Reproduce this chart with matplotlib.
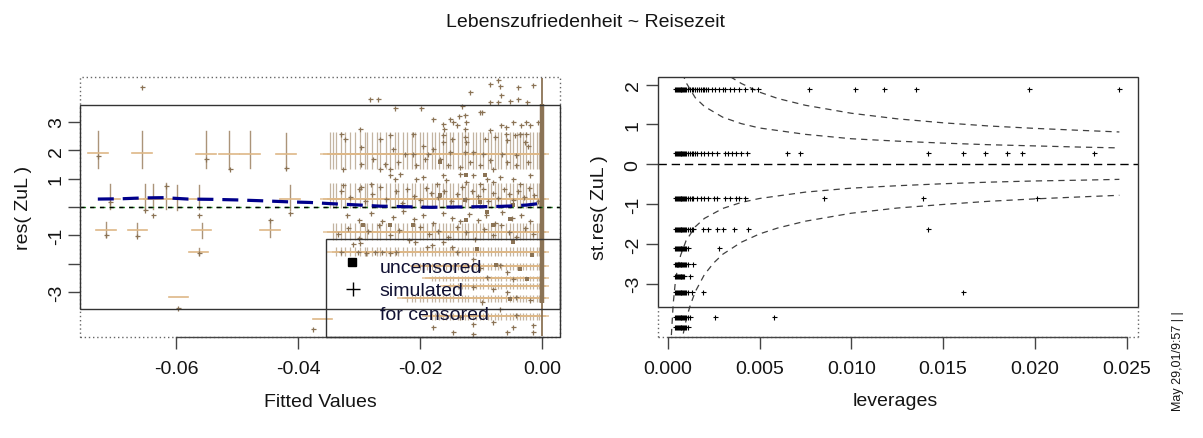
import matplotlib
matplotlib.use("Agg")
import matplotlib.pyplot as plt
from matplotlib.patches import Rectangle

plt.rcParams['font.family'] = ['Liberation Sans', 'DejaVu Sans']
plt.rcParams['axes.unicode_minus'] = False

# ---------------- data: left panel (res vs fitted) ----------------
# big censored "+" crosses (simulated residuals) in the sparse left region
cens_x  = [-0.0728, -0.0656, -0.0551, -0.0513, -0.0479, -0.0420,
           -0.0708, -0.0650, -0.0637, -0.0617, -0.0598, -0.0563, -0.0413,
           -0.0715, -0.0663, -0.0558, -0.0446,
           -0.0563, -0.0596, -0.0360]
cens_y  = [1.92, 1.92, 1.86, 1.86, 1.86, 1.86,
           0.28, 0.28, 0.28, 0.28, 0.28, 0.28, 0.28,
           -0.81, -0.81, -0.81, -0.81,
           -1.59, -3.17, -3.94]
cens_lo = [1.39, 1.39, 1.39, 1.35, 1.39, 1.35,
           -0.08, -0.12, -0.08, -0.08, -0.10, -0.08, -0.12,
           -1.05, -1.05, -1.10, -1.05,
           -1.68, -3.17, -3.94]
cens_hi = [2.68, 2.68, 2.68, 2.68, 2.68, 2.63,
           0.81, 0.81, 0.81, 0.85, 0.78, 0.78, 0.78,
           -0.53, -0.57, -0.57, -0.45,
           -1.45, -3.17, -3.94]

# fitted values of the dense region (columns)
dense_x = [-0.0348, -0.0343, -0.0337, -0.0329, -0.0323, -0.0315, -0.0307, -0.0299,
           -0.0290, -0.0287, -0.0278, -0.0271, -0.0266, -0.0255, -0.0250, -0.0241,
           -0.0236, -0.0228, -0.0222, -0.0214, -0.0209, -0.0200, -0.0195, -0.0189,
           -0.0181, -0.0176, -0.0169, -0.0162, -0.0157, -0.0151, -0.0146, -0.0138,
           -0.0132, -0.0127, -0.0121, -0.0114, -0.0108, -0.0102, -0.0097, -0.0089,
           -0.0083, -0.0078, -0.0072, -0.0067, -0.0060, -0.0053, -0.0048, -0.0041,
           -0.0037, -0.0031, -0.0026, -0.0020, -0.0015, -0.0009, -0.0005]
# response levels of the censored crosses in the dense region
lvl_y    = [1.86, 0.28, -0.87, -1.58, -2.10, -2.52, -2.80, -3.22, -3.86]
lvl_lo   = [1.33, -0.05, -1.15, -1.72, -2.22, -2.62, -2.90, -3.35, -3.98]
lvl_hi   = [2.65, 0.85, -0.58, -1.42, -1.98, -2.42, -2.70, -3.10, -3.74]
lvl_from = [-0.0348, -0.0348, -0.0343, -0.0337, -0.0200, -0.0181, -0.0151, -0.0222, -0.0181]

# uncensored residuals (small points)
ux = [-0.0282, -0.0269, -0.0241, -0.0198, -0.0132, -0.0118, -0.0086, -0.0072, -0.0069, -0.0053,
      -0.0039, -0.0040, -0.0025, -0.0085, -0.0099, -0.0179, -0.0151, -0.0146, -0.0127, -0.0102,
      -0.0086, -0.0067, -0.0048, -0.0026, -0.0026, -0.0037, -0.0060, -0.0162, -0.0140, -0.0127,
      -0.0067, -0.0015, -0.0072, -0.0137, -0.0125, -0.0160, -0.0059, -0.0034, -0.0020, -0.0006,
      -0.0656,
      -0.0162, -0.0148, -0.0127, -0.0124, -0.0094, -0.0077, -0.0058, -0.0044, -0.0036, -0.0028,
      -0.0023, -0.0151, -0.0127, -0.0113, -0.0097, -0.0066, -0.0042, -0.0086, -0.0058, -0.0154,
      -0.0135, -0.0118, -0.0102, -0.0080, -0.0042, -0.0023, -0.0329, -0.0323, -0.0299, -0.0296,
      -0.0266, -0.0249, -0.0244, -0.0211, -0.0195, -0.0187, -0.0179, -0.0211, -0.0296, -0.0277,
      -0.0258, -0.0236, -0.0225, -0.0206, -0.0192, -0.0168, -0.0162, -0.0326, -0.0266, -0.0249,
      -0.0728, -0.0551, -0.0512, -0.0420,
      -0.0249, -0.0241, -0.0233, -0.0206, -0.0195, -0.0173, -0.0162, -0.0157, -0.0135, -0.0124,
      -0.0113, -0.0102, -0.0091, -0.0080, -0.0069, -0.0047, -0.0036, -0.0020, -0.0326, -0.0296,
      -0.0280,
      -0.0330, -0.0315, -0.0300, -0.0290, -0.0278, -0.0265, -0.0255, -0.0240, -0.0230, -0.0222,
      -0.0210, -0.0200, -0.0190, -0.0182, -0.0170, -0.0160, -0.0150, -0.0140, -0.0132, -0.0125,
      -0.0115, -0.0105, -0.0097, -0.0088, -0.0080, -0.0072, -0.0063, -0.0055, -0.0047, -0.0040,
      -0.0030, -0.0022, -0.0014, -0.0006,
      -0.0708, -0.0650, -0.0637, -0.0617, -0.0563, -0.0446, -0.0413,
      -0.0320, -0.0300, -0.0280, -0.0262, -0.0245, -0.0228, -0.0210, -0.0195, -0.0178, -0.0162,
      -0.0148, -0.0135, -0.0120, -0.0105, -0.0092, -0.0078, -0.0065, -0.0050, -0.0035, -0.0020,
      -0.0335, -0.0318, -0.0300, -0.0285, -0.0268, -0.0250, -0.0235, -0.0218, -0.0200, -0.0185,
      -0.0170, -0.0155, -0.0140, -0.0125, -0.0110, -0.0095, -0.0080, -0.0068, -0.0055, -0.0042,
      -0.0028, -0.0015,
      -0.0563, -0.0663, -0.0715, -0.0597, -0.0375,
      -0.0329, -0.0301, -0.0288, -0.0274, -0.0263, -0.0249, -0.0239, -0.0310, -0.0299, -0.0209,
      -0.0189, -0.0181, -0.0162, -0.0148, -0.0140, -0.0113, -0.0102, -0.0069, -0.0058, -0.0091,
      -0.0047, -0.0113, -0.0080, -0.0058, -0.0042, -0.0020, -0.0099, -0.0069, -0.0042, -0.0135,
      -0.0113, -0.0080, -0.0047, -0.0015, -0.0179, -0.0146, -0.0113, -0.0058, -0.0015]
uy = [3.80, 3.80, 3.49, 3.49, 3.57, 4.07, 4.35, 4.47, 4.27, 3.76,
      4.22, 3.82, 3.70, 3.70, 3.35, 3.12, 3.12, 3.00, 3.24, 3.35,
      2.71, 2.88, 3.00, 3.00, 2.59, 2.59, 2.59, 2.94, 2.88, 2.76,
      3.94, 4.29, 3.70, 3.23, 3.00, 2.76, 2.82, 2.90, 2.90, 3.00,
      4.24,
      2.53, 2.41, 2.47, 2.29, 2.41, 2.47, 2.35, 2.53, 2.59, 2.29,
      2.17, 1.94, 1.94, 1.94, 1.88, 1.88, 1.84, 1.65, 1.59, 1.47,
      1.41, 1.59, 1.47, 1.35, 1.47, 1.59, 2.59, 2.41, 2.76, 2.12,
      2.41, 2.53, 2.06, 2.59, 2.17, 1.88, 2.06, 1.88, 1.53, 1.71,
      1.53, 1.59, 1.88, 1.47, 1.71, 1.71, 2.29, 1.35, 1.35, 1.35,
      1.80, 1.68, 1.35, 1.38,
      1.12, 1.00, 1.18, 1.00, 1.06, 0.82, 1.12, 0.94, 1.18, 0.88,
      1.12, 0.82, 1.00, 0.88, 1.06, 1.00, 0.82, 1.12, 0.76, 0.70,
      0.82,
      0.55, 0.35, 0.62, 0.20, 0.45, 0.70, 0.30, 0.55, 0.15, 0.62,
      0.40, 0.25, 0.68, 0.50, 0.35, 0.58, 0.20, 0.45, 0.70, 0.30,
      0.55, 0.38, 0.65, 0.22, 0.50, 0.32, 0.62, 0.45, 0.25, 0.58,
      0.35, 0.68, 0.42, 0.20,
      0.18, -0.12, -0.30, 0.74, -0.30, -0.45, -0.20,
      -0.30, -0.45, -0.20, -0.50, -0.35, -0.15, -0.42, -0.28, -0.55, -0.20,
      -0.38, -0.50, -0.25, -0.45, -0.30, -0.55, -0.18, -0.40, -0.28, -0.50,
      -0.95, -0.75, -1.10, -0.85, -0.65, -1.00, -0.80, -1.15, -0.70, -0.95,
      -0.85, -1.05, -0.70, -0.90, -1.12, -0.78, -0.98, -0.65, -0.88, -1.05,
      -0.75, -0.95,
      -1.62, -1.04, -0.98, -3.57, -4.30,
      -1.59, -1.59, -1.61, -1.59, -1.59, -1.61, -1.59, -1.30, -1.26, -1.24,
      -1.41, -1.33, -1.24, -1.41, -1.59, -1.82, -2.17, -2.06, -2.29, -2.47,
      -2.53, -2.82, -2.88, -3.00, -3.18, -3.30, -3.35, -3.59, -3.83, -3.88,
      -4.12, -4.06, -4.24, -4.18, -4.24, -4.41, -4.47, -4.41, -4.41]

# dark clumps of overlapping uncensored points
clump_x = [-0.0168, -0.0124, -0.0094, -0.0127, -0.0102, -0.0168, -0.0047, -0.0053, -0.0091,
           -0.0124, -0.0080, -0.0047, -0.0107, -0.0075, -0.0036, -0.0017, -0.0025, -0.0053,
           -0.0249, -0.0211, -0.0293]
clump_y = [1.59, 1.12, 1.12, 0.23, 0.18, 0.41, 0.06, -0.41, -0.18,
           -0.47, -0.65, -1.24, -1.47, -2.06, -2.18, -1.71, -2.53, -3.24,
           -0.65, -0.65, -0.65]

# observations with fitted value 0 (vertical strip)
zero_fit = 0.0
strip_core = [-3.40, 3.65]
strip_full = [-4.55, 4.55]

# lowess smooth (blue dashed)
smooth_x = [-0.0728, -0.0690, -0.0655, -0.0620, -0.0580, -0.0540, -0.0500, -0.0460,
            -0.0413, -0.0380, -0.0348, -0.0300, -0.0266, -0.0225, -0.0184, -0.0143,
            -0.0102, -0.0070, -0.0047, -0.0025, -0.0006]
smooth_y = [0.28, 0.29, 0.32, 0.33, 0.28, 0.27, 0.25, 0.22, 0.18, 0.16, 0.12, 0.07,
            0.03, 0.01, -0.01, 0.00, 0.01, 0.02, 0.04, 0.07, 0.12]

# ---------------- data: right panel (st.res vs leverages) ----------------
dense_lev = [0.0004, 0.00045, 0.0005, 0.00055, 0.0006, 0.00065, 0.0007, 0.00075,
             0.0008, 0.00085, 0.0009, 0.00095, 0.001]
res_levels = [1.88, 0.27, -0.85, -1.62, -2.10, -2.50, -2.80, -3.20, -3.84, -4.08]
lev_by_level = [
    dense_lev + [0.0011, 0.0012, 0.0013, 0.0014, 0.0015, 0.0016, 0.0017, 0.0018, 0.0019,
                 0.0020, 0.0021, 0.0022, 0.0024, 0.0026, 0.0028, 0.0030, 0.0031, 0.0034,
                 0.0036, 0.0039, 0.0042, 0.0046, 0.0049, 0.0077, 0.0102, 0.0118, 0.0135,
                 0.0197, 0.0246],
    dense_lev + [0.0011, 0.0012, 0.0013, 0.0014, 0.0015, 0.0016, 0.0018, 0.0020, 0.0022,
                 0.0024, 0.0027, 0.0031, 0.0033, 0.0035, 0.0037, 0.0040, 0.0043, 0.0065,
                 0.0072, 0.0142, 0.0161, 0.0173, 0.0185, 0.0193, 0.0232],
    dense_lev + [0.0011, 0.0012, 0.0013, 0.0014, 0.0016, 0.0018, 0.0020, 0.0022, 0.0025,
                 0.0027, 0.0031, 0.0034, 0.0037, 0.0039, 0.0042, 0.0085, 0.0139, 0.0201],
    dense_lev + [0.0011, 0.0012, 0.0013, 0.0014, 0.0019, 0.0022, 0.0027, 0.0030, 0.0036,
                 0.0044, 0.0142],
    dense_lev + [0.0011, 0.0028],
    dense_lev + [0.0011, 0.0014],
    dense_lev[:11] + [0.0012],
    dense_lev + [0.0011, 0.0013, 0.0019, 0.0161],
    dense_lev + [0.0011, 0.0012, 0.0026, 0.0058],
    dense_lev + [0.0011],
]

# Cook-type reference contours
c_out_up_h = [0.0034, 0.004, 0.005, 0.006, 0.0075, 0.01, 0.0125, 0.015, 0.0175, 0.02, 0.0225, 0.0246]
c_out_up_y = [2.20, 2.03, 1.81, 1.65, 1.48, 1.28, 1.14, 1.04, 0.96, 0.90, 0.85, 0.81]
c_in_up_h  = [0.0008, 0.001, 0.0015, 0.002, 0.003, 0.004, 0.005, 0.0075, 0.01, 0.0125, 0.015, 0.0175, 0.02, 0.0225, 0.0246]
c_in_up_y  = [2.29, 2.05, 1.67, 1.45, 1.18, 1.02, 0.91, 0.75, 0.64, 0.58, 0.53, 0.49, 0.46, 0.43, 0.41]
c_out_lo_h = [0.00085, 0.001, 0.0012, 0.0015, 0.002, 0.0025, 0.003, 0.004, 0.005, 0.006, 0.0075, 0.01, 0.0125, 0.015, 0.0175, 0.02, 0.0225, 0.0246]
c_out_lo_y = [-4.25, -3.92, -3.58, -3.20, -2.77, -2.48, -2.26, -1.96, -1.75, -1.60, -1.43, -1.23, -1.10, -1.01, -0.93, -0.87, -0.82, -0.78]
c_in_lo_h  = [0.0002, 0.0003, 0.0004, 0.0005, 0.0007, 0.001, 0.0015, 0.002, 0.003, 0.004, 0.005, 0.0075, 0.01, 0.0125, 0.015, 0.0175, 0.02, 0.0225, 0.0246]
c_in_lo_y  = [-4.29, -3.50, -3.03, -2.71, -2.29, -1.92, -1.57, -1.36, -1.11, -0.96, -0.86, -0.70, -0.60, -0.54, -0.49, -0.45, -0.42, -0.40, -0.38]

left_xticks = [-0.06, -0.04, -0.02, 0.00]
left_xticklabels = ['-0.06', '-0.04', '-0.02', '0.00']
left_yticks = [-3, -2, -1, 0, 1, 2, 3]
left_yticklabels = ['-3', '', '-1', '', '1', '2', '3']
right_xticks = [0.000, 0.005, 0.010, 0.015, 0.020, 0.025]
right_xticklabels = ['0.000', '0.005', '0.010', '0.015', '0.020', '0.025']
right_yticks = [-3, -2, -1, 0, 1, 2]
right_yticklabels = ['-3', '-2', '-1', '0', '1', '2']
legend_labels = ['uncensored', 'simulated', 'for censored']

# ---------------- figure ----------------
W, H = 1203, 439
fig = plt.figure(figsize=(W / 100, H / 100), dpi=100)
fig.patch.set_facecolor('white')

def px_axes(x0, y0, x1, y1):
    return fig.add_axes([x0 / W, 1 - y1 / H, (x1 - x0) / W, (y1 - y0) / H])

AX = '#444444'
TXT = '#141414'
BROWN = '#8B7355'
TAN = '#DEB887'
VERT = '#9C8262'
ARM = 0.0016

# ======== left ========
axL = px_axes(80, 78, 560, 338)
xl0, xl1 = -0.07572, 0.00293
yl0, yl1 = -4.59, 4.59
axL.set_xlim(xl0, xl1)
axL.set_ylim(yl0, yl1)
for s in axL.spines.values():
    s.set_visible(False)

# sparse censored crosses
for x, y, lo, hi in zip(cens_x, cens_y, cens_lo, cens_hi):
    if hi > lo:
        axL.plot([x, x], [lo, hi], color=VERT, lw=1.0, alpha=0.85, zorder=2)
    axL.plot([x - ARM, x + ARM], [y, y], color=TAN, lw=1.2, zorder=2)

# dense censored crosses
for ly, lo, hi, x0 in zip(lvl_y, lvl_lo, lvl_hi, lvl_from):
    xs = [x for x in dense_x if x >= x0]
    axL.vlines(xs, lo, hi, color=VERT, lw=0.9, alpha=0.6, zorder=2)
    axL.hlines([ly] * len(xs), [x - ARM for x in xs], [x + ARM for x in xs],
               color=TAN, lw=1.1, alpha=0.85, zorder=2)

# uncensored points
axL.plot(ux, uy, '+', color=BROWN, ms=3.6, mew=0.9, zorder=3)
axL.plot(clump_x, clump_y, 's', color=BROWN, ms=3.2, mew=0, zorder=3)

# fitted == 0 strip
axL.vlines([zero_fit], strip_full[0], strip_full[1], color=BROWN, lw=1.3, zorder=3)
axL.vlines([zero_fit], strip_core[0], strip_core[1], color=BROWN, lw=3.2, zorder=3)

# reference lines
axL.axhline(0, color='#1a8a1a', lw=1.0, dashes=(4, 3), zorder=4)
axL.axhline(0, color='black', lw=1.0, dashes=(3, 4), zorder=4)
axL.plot(smooth_x, smooth_y, color='#00008B', lw=2.3, dashes=(5, 2.8), zorder=5)

# frames
axL.add_patch(Rectangle((0, 0), 1, 1, transform=axL.transAxes, fill=False, ls=(0, (1, 2)),
                        lw=1.0, ec='#666666', clip_on=False, zorder=6))
axL.add_patch(Rectangle((xl0, -3.6), xl1 - xl0, 7.2, fill=False, lw=1.0, ec='#333333',
                        clip_on=False, zorder=6))
axL.plot([-0.06, 0.0], [yl0, yl0], color=AX, lw=1.0, clip_on=False, zorder=6)

# legend (transparent box)
leg_x0, leg_top = -0.03543, -1.12
axL.add_patch(Rectangle((leg_x0, yl0), xl1 - leg_x0, leg_top - yl0,
                        fill=False, lw=1.0, ec='#333333', clip_on=False, zorder=6))
axL.plot([-0.03122], [-1.94], 's', color='black', ms=6, zorder=7)
axL.plot([-0.03096], [-2.88], '+', color='black', ms=10, mew=1.0, zorder=7)
for ty, t in zip([-2.31, -3.12, -3.97], legend_labels):
    axL.text(-0.02658, ty, t, fontsize=14, color='#111133', ha='left', va='baseline', zorder=7)

axL.set_xticks(left_xticks)
axL.set_xticklabels(left_xticklabels)
axL.set_yticks(left_yticks)
axL.set_yticklabels(left_yticklabels, rotation=90, va='center')
axL.tick_params(axis='both', direction='out', length=8.5, width=1.0, color=AX,
                labelsize=14, labelcolor=TXT)
axL.tick_params(axis='x', pad=8.0)
axL.tick_params(axis='y', pad=2.5)

# ======== right ========
axR = px_axes(657.7, 78, 1137.7, 337.7)
xr0, xr1 = -0.000545, 0.025599
yr0, yr1 = -4.33, 2.19
axR.set_xlim(xr0, xr1)
axR.set_ylim(yr0, yr1)
for s in axR.spines.values():
    s.set_visible(False)

axR.axhline(0, color='black', lw=1.0, dashes=(6, 3.5), zorder=3)
for hh, yy in [(c_out_up_h, c_out_up_y), (c_in_up_h, c_in_up_y),
               (c_out_lo_h, c_out_lo_y), (c_in_lo_h, c_in_lo_y)]:
    axR.plot(hh, yy, color='#404040', lw=0.9, dashes=(5, 4), zorder=2)

for lv, levs in zip(res_levels, lev_by_level):
    axR.plot(levs, [lv] * len(levs), '+', color='black', ms=3.6, mew=0.8, zorder=4)

axR.add_patch(Rectangle((xr0, -3.58), xr1 - xr0, yr1 + 3.58, fill=False, lw=1.0,
                        ec='#333333', clip_on=False, zorder=6))
for xs_, ys_ in [([xr0, xr0], [yr0, -3.58]), ([xr1, xr1], [yr0, -3.58]), ([xr0, xr1], [yr0, yr0])]:
    axR.plot(xs_, ys_, color='#666666', lw=1.0, ls=(0, (1, 2)), clip_on=False, zorder=6)
axR.plot([0.0, 0.025], [yr0, yr0], color=AX, lw=1.0, clip_on=False, zorder=6)

axR.set_xticks(right_xticks)
axR.set_xticklabels(right_xticklabels)
axR.set_yticks(right_yticks)
axR.set_yticklabels(right_yticklabels, rotation=90, va='center')
axR.tick_params(axis='both', direction='out', length=8.5, width=1.0, color=AX,
                labelsize=14, labelcolor=TXT)
axR.tick_params(axis='x', pad=8.0)
axR.tick_params(axis='y', pad=3.0)

# ======== texts ========
def ftext(x, y, s, **kw):
    fig.text(x / W, 1 - y / H, s, **kw)

ftext(585, 26.7, 'Lebenszufriedenheit ~ Reisezeit', fontsize=14, color=TXT,
      ha='center', va='baseline')
ftext(320, 406.7, 'Fitted Values', fontsize=14, color=TXT, ha='center', va='baseline')
ftext(895, 406.5, 'leverages', fontsize=14, color=TXT, ha='center', va='baseline')
ftext(23, 208, 'res( ZuL )', fontsize=14, color=TXT, rotation=90, ha='center', va='center')
ftext(600, 207.5, 'st.res( ZuL )', fontsize=14, color=TXT, rotation=90, ha='center', va='center')
ftext(1178, 361, 'May 29,01/9:57 | |', fontsize=9, color=TXT, rotation=90,
      ha='center', va='center')

fig.savefig('out.png', dpi=100, facecolor='white')
